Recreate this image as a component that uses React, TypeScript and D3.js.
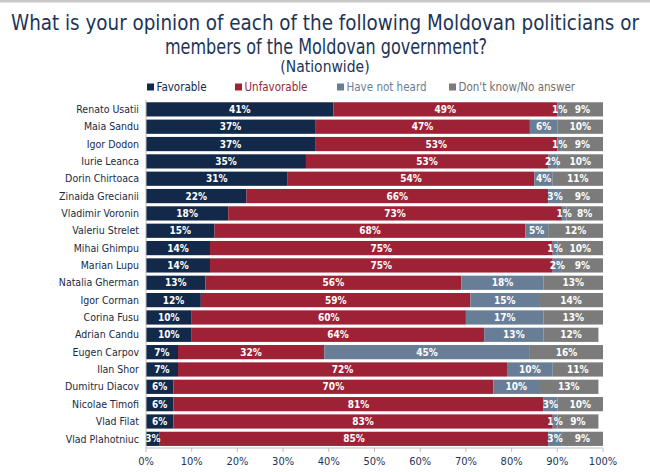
import React from "react";
import * as d3 from "d3";

const names = [
  "Renato Usatii", "Maia Sandu", "Igor Dodon", "Iurie Leanca", "Dorin Chirtoaca",
  "Zinaida Grecianii", "Vladimir Voronin", "Valeriu Strelet", "Mihai Ghimpu", "Marian Lupu",
  "Natalia Gherman", "Igor Corman", "Corina Fusu", "Adrian Candu", "Eugen Carpov",
  "Ilan Shor", "Dumitru Diacov", "Nicolae Timofi", "Vlad Filat", "Vlad Plahotniuc",
];
const favorable = [41, 37, 37, 35, 31, 22, 18, 15, 14, 14, 13, 12, 10, 10, 7, 7, 6, 6, 6, 3];
const unfavorable = [49, 47, 53, 53, 54, 66, 73, 68, 75, 75, 56, 59, 60, 64, 32, 72, 70, 81, 83, 85];
const notHeard = [1, 6, 1, 2, 4, 3, 1, 5, 1, 2, 18, 15, 17, 13, 45, 10, 10, 3, 1, 3];
const dontKnow = [9, 10, 9, 10, 11, 9, 8, 12, 10, 9, 13, 14, 13, 12, 16, 11, 13, 10, 9, 9];
const seriesNames = ["Favorable", "Unfavorable", "Have not heard", "Don't know/No answer"];
const xTicks = [0, 10, 20, 30, 40, 50, 60, 70, 80, 90, 100];

const colors = ["#12294a", "#9e2235", "#687e96", "#7b7b7b"];
const legendText = ["#12294a", "#9e2235", "#687e96", "#6f6f6f"];
const legendX = [147, 235, 337, 449];
const FONT = "'DejaVu Sans Condensed', 'DejaVu Sans', sans-serif";
const W = 650, H = 472;

export default function App() {
  const x = d3.scaleLinear().domain([0, 100]).range([146, 603]);
  const y = d3.scaleBand<string>().domain(names).range([100.7, 447.5]).paddingInner(0.18).paddingOuter(0.09);
  const values = [favorable, unfavorable, notHeard, dontKnow];
  const rows = names.map((n, i) => {
    let acc = 0;
    return values.map((s, k) => {
      const v = s[i];
      const seg = { k, v, x0: acc, x1: acc + v };
      acc += v;
      return seg;
    });
  });
  const bw = y.bandwidth();
  return (
    <svg width={W} height={H} style={{ position: "absolute", left: 0, top: 0, background: "#fff" }} fontFamily={FONT}>
      <rect x={0} y={0} width={W} height={2.5} fill="#c9c9c9" />
      <text x={325} y={30} textAnchor="middle" fontSize={20.5} fill="#1d3557" textLength={628} lengthAdjust="spacingAndGlyphs">
        What is your opinion of each of the following Moldovan politicians or
      </text>
      <text x={326} y={54} textAnchor="middle" fontSize={20.5} fill="#1d3557" textLength={322} lengthAdjust="spacingAndGlyphs">
        members of the Moldovan government?
      </text>
      <text x={325} y={72} textAnchor="middle" fontSize={15.5} fill="#1d3557">
        (Nationwide)
      </text>
      {seriesNames.map((s, k) => (
        <g key={s}>
          <rect x={legendX[k]} y={83.5} width={7} height={7} fill={colors[k]} />
          <text x={legendX[k] + 9.5} y={91} fontSize={11.5} fill={legendText[k]}>{s}</text>
        </g>
      ))}
      {rows.map((segs, i) => (
        <g key={names[i]}>
          <text x={139} y={(y(names[i]) as number) + bw / 2} dy="0.35em" textAnchor="end" fontSize={10.5} fill="#1a2a44">
            {names[i]}
          </text>
          {segs.map((s) => (
            <rect key={s.k} x={x(s.x0)} y={y(names[i])} width={x(s.x1) - x(s.x0)} height={bw} fill={colors[s.k]} />
          ))}
          {segs.map((s) => (
            <text key={"t" + s.k} x={(x(s.x0) + x(s.x1)) / 2} y={(y(names[i]) as number) + bw / 2} dy="0.36em"
              textAnchor="middle" fontSize={10} fontWeight="bold" fill="#ffffff">
              {s.v}%
            </text>
          ))}
        </g>
      ))}
      <line x1={146} x2={146} y1={100} y2={448} stroke="#bdbdbd" strokeWidth={1} />
      <line x1={146} x2={603} y1={448} y2={448} stroke="#bdbdbd" strokeWidth={1} />
      {xTicks.map((t) => (
        <g key={t}>
          <line x1={x(t)} x2={x(t)} y1={448} y2={452} stroke="#bdbdbd" />
          <text x={x(t)} y={465} textAnchor="middle" fontSize={11} fill="#1d3557">{t}%</text>
        </g>
      ))}
    </svg>
  );
}
